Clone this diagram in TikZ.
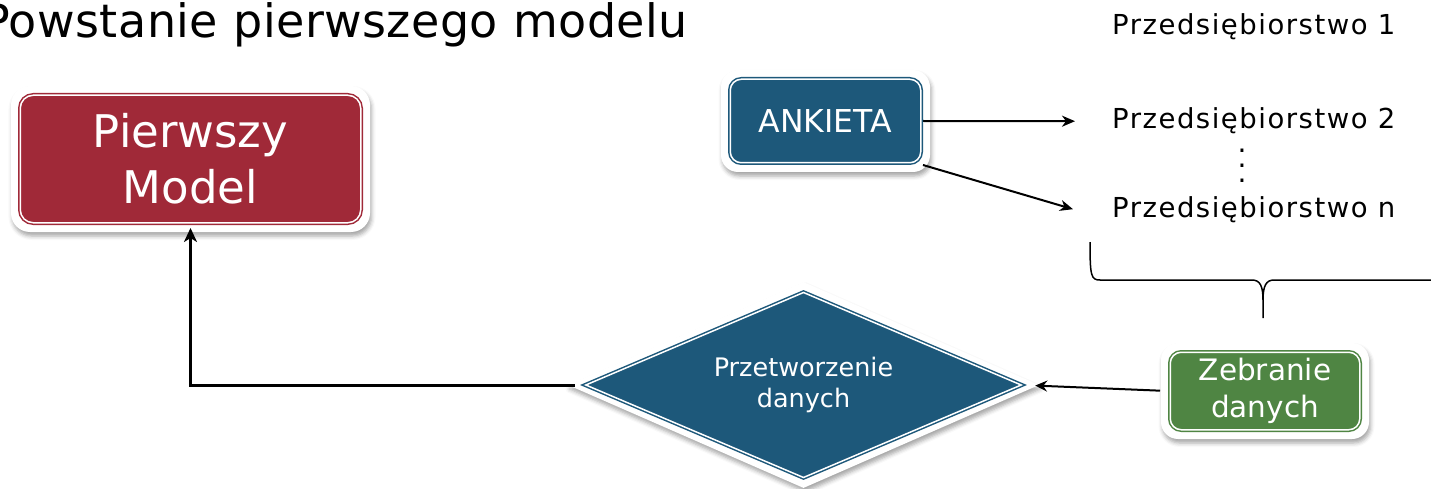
\documentclass[tikz,border=0pt]{standalone}
\usepackage{fontspec}
\setmainfont{DejaVu Sans}
\usetikzlibrary{shapes.geometric,arrows.meta,fit,shadows.blur}

\definecolor{boxred}{RGB}{160,41,56}
\definecolor{boxblue}{RGB}{29,88,122}
\definecolor{boxgreen}{RGB}{79,133,67}

\pgfdeclarelayer{halo}
\pgfdeclarelayer{lines}
\pgfsetlayers{halo,lines,main}

\tikzset{
  tile/.style={rectangle, rounded corners=11pt, fill=#1, draw=#1,
    double=white, double distance=1.5pt, line width=1.5pt,
    outer sep=2.25pt, inner sep=0pt, text=white, align=center},
  rhomb/.style={diamond, aspect=2.35, fill=#1, draw=#1,
    double=white, double distance=1.5pt, line width=1.5pt,
    outer sep=0pt, inner sep=0pt, text=white, align=center},
  halo/.style={rectangle, rounded corners=17pt, fill=white, draw=none,
    blur shadow={shadow xshift=1.5pt, shadow yshift=-4pt,
      shadow blur radius=4pt, shadow opacity=35}},
  rhombhalo/.style={diamond, aspect=2.35, fill=white, draw=none, inner sep=0pt,
    blur shadow={shadow xshift=1.5pt, shadow yshift=-4pt,
      shadow blur radius=4pt, shadow opacity=35}},
  firm/.style={inner sep=0pt,
    font=\fontsize{27.5}{34}\selectfont\addfontfeature{LetterSpace=5.5}},
  arrthin/.style={draw=black, line width=2pt,
    -{Stealth[length=13pt, width=11pt, inset=4pt]}},
  arrmid/.style={draw=black, line width=2pt,
    -{Stealth[length=12pt, width=11pt, inset=4pt]}},
  arrthick/.style={draw=black, line width=3pt,
    -{Stealth[length=14pt, width=13pt, inset=4pt]}},
  bracestroke/.style={draw=black, line width=1.5pt}
}

\begin{document}
\begin{tikzpicture}[x=1pt, y=-1pt]
  \useasboundingbox (0,0) rectangle (1431,489);
  \clip (0,0) rectangle (1431,489);

  % heading
  \node[anchor=base east, inner sep=0pt,
        font=\fontsize{46}{50}\selectfont\addfontfeature{LetterSpace=1}]
    (title) at (688,38) {Powstanie pierwszego modelu};

  % boxes
  \node[tile=boxred, minimum width=340.5pt, minimum height=127.5pt,
        rounded corners=13pt, font=\fontsize{45}{56}\selectfont]
    (pm) at (190.5,159) {Pierwszy\\Model};
  \node[tile=boxblue, minimum width=190.5pt, minimum height=83.5pt,
        font=\fontsize{31.5}{38}\selectfont]
    (ank) at (825.5,121) {ANKIETA};
  \node[tile=boxgreen, minimum width=189.5pt, minimum height=77.5pt,
        font=\fontsize{29.5}{37}\selectfont]
    (zeb) at (1265,391) {Zebranie\\danych};
  \node[rhomb=boxblue, minimum width=435.4pt, minimum height=185pt,
        font=\fontsize{25.5}{31}\selectfont]
    (dia) at (803.5,385) {Przetworzenie\\danych};

  % list of companies
  \node[firm, anchor=base west] (p1) at (1112,35) {Przedsiębiorstwo 1};
  \node[firm, anchor=base west] (p2) at (1112,129) {Przedsiębiorstwo 2};
  \node[firm, anchor=base west] (pn) at (1112,217) {Przedsiębiorstwo n};
  \node[inner sep=0pt, align=center, font=\fontsize{28}{15}\selectfont]
    (dots) at (1242,166) {.\\.\\.};

  % white frames with soft shadows
  \begin{pgfonlayer}{halo}
    \node[halo, fit=(pm), inner sep=7pt, rounded corners=19pt] (pm-halo) {};
    \node[halo, fit=(ank), inner sep=7pt] (ank-halo) {};
    \node[halo, fit=(zeb), inner sep=7pt] (zeb-halo) {};
    \node[rhombhalo, minimum width=471pt, minimum height=206pt]
      (dia-halo) at (dia.center) {};
  \end{pgfonlayer}

  % connectors
  \begin{pgfonlayer}{lines}
    \draw[arrthin] (ank.east) -- ([xshift=-37pt]p2.west);
    \draw[arrthin] (ank.south east) -- ([xshift=-39pt]pn.west);
    \draw[arrmid, shorten <=8pt, shorten >=14pt] (zeb.west) -- (dia.east);
    \draw[arrthick, shorten <=11pt, shorten >=3pt] (dia.west) -| (pm.south);
  \end{pgfonlayer}

  % brace under the list
  \draw[bracestroke]
    (1090,242) .. controls (1090,276) and (1091,280) .. (1100,280)
    -- (1252,280) .. controls (1260,280) and (1263,286) .. (1263,300)
    -- (1263,318);
  \draw[bracestroke]
    (1263,300) .. controls (1263,286) and (1266,280) .. (1274,280)
    -- (1445,280);
\end{tikzpicture}
\end{document}
